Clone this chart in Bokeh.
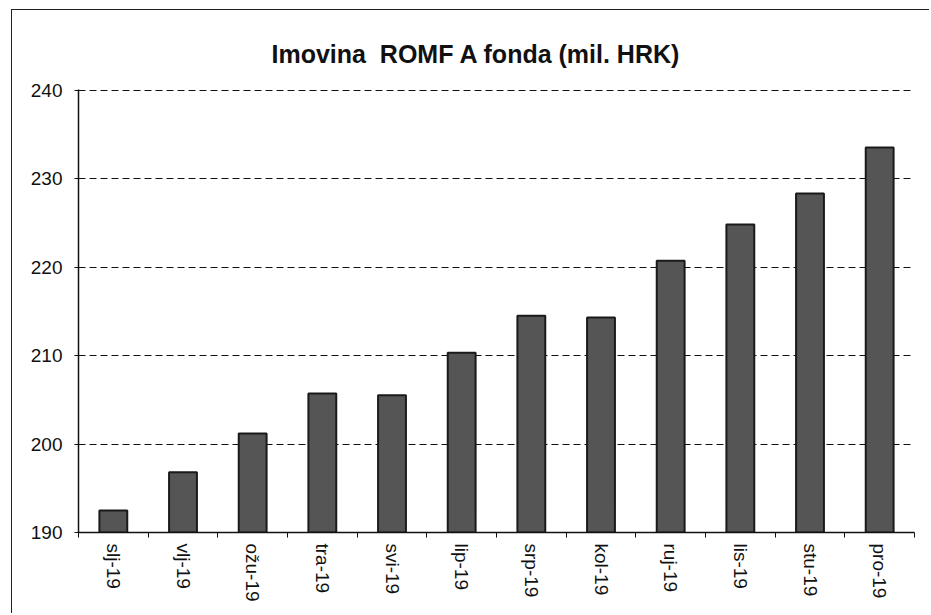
from bokeh.plotting import figure
from bokeh.models import Range1d, LinearAxis, FixedTicker
from bokeh.embed import file_html
from bokeh.resources import INLINE

categories = ["slj-19", "vlj-19", "ožu-19", "tra-19", "svi-19", "lip-19",
              "srp-19", "kol-19", "ruj-19", "lis-19", "stu-19", "pro-19"]
values = [192.5, 196.8, 201.2, 205.7, 205.5, 210.3,
          214.5, 214.3, 220.7, 224.8, 228.3, 233.5]
y_ticks = [190, 200, 210, 220, 230, 240]

n = len(categories)
centers = [i + 0.5 for i in range(n)]
bounds = list(range(n + 1))

W, H = 918, 604
p = figure(width=W, height=H, x_range=Range1d(0, n), y_range=Range1d(190, 240.06),
           output_backend="svg", toolbar_location=None, tools="",
           x_axis_location=None, y_axis_location=None,
           min_border_left=66, min_border_right=16, min_border_top=79,
           min_border_bottom=82)
p.title.text = "Imovina\u00a0\u00a0ROMF A fonda (mil. HRK)"
p.title.align = "left"
p.title.offset = 193
p.title.vertical_align = "top"
p.title.text_font = "Liberation Sans"
p.title.text_font_style = "bold"
p.title.text_font_size = "25px"
p.title.text_color = "#111111"
p.title.standoff = 40

p.outline_line_color = None
p.background_fill_color = "white"
p.border_fill_color = "white"
p.styles = {"border-left": "1.5px solid #222222", "border-top": "1.5px solid #222222",
            "margin-left": "11px", "margin-top": "9px"}

yax = LinearAxis(ticker=FixedTicker(ticks=y_ticks))
yax.axis_line_color = "#111111"
yax.axis_line_width = 1.5
yax.major_tick_line_color = "#111111"
yax.major_tick_in = 3
yax.major_tick_out = 4
yax.minor_tick_line_color = None
yax.major_label_text_font = "Liberation Sans"
yax.major_label_text_font_size = "19px"
yax.major_label_text_color = "#111111"
yax.major_label_standoff = 12
p.add_layout(yax, "left")

tax = LinearAxis(ticker=FixedTicker(ticks=bounds))
tax.major_label_overrides = {b: "" for b in bounds}
tax.axis_line_color = "#111111"
tax.axis_line_width = 1.5
tax.major_tick_line_color = "#111111"
tax.major_tick_in = 0
tax.major_tick_out = 5
tax.minor_tick_line_color = None
tax.major_label_standoff = 0
p.add_layout(tax, "below")

xax = LinearAxis(ticker=FixedTicker(ticks=centers))
xax.major_label_overrides = {c: lab for c, lab in zip(centers, categories)}
xax.axis_line_color = None
xax.major_tick_line_color = None
xax.minor_tick_line_color = None
xax.major_label_orientation = "vertical"
xax.major_label_text_font = "Liberation Sans"
xax.major_label_text_font_size = "19px"
xax.major_label_text_color = "#111111"
xax.major_label_standoff = 0
p.add_layout(xax, "below")

p.xgrid.grid_line_color = None
p.ygrid.ticker = FixedTicker(ticks=y_ticks[1:])
p.ygrid.grid_line_color = "#111111"
p.ygrid.grid_line_dash = "7 4"
p.ygrid.grid_line_width = 1.2

p.vbar(x=centers, top=values, bottom=190, width=0.4,
       fill_color="#555555", line_color="#1a1a1a", line_width=2)

open("out.html", "w").write(file_html(p, INLINE))
